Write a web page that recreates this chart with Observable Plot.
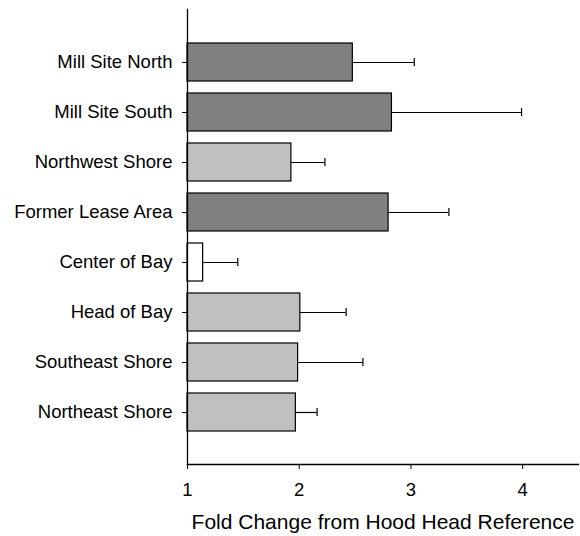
<!DOCTYPE html>
<html>
<head>
<meta charset="utf-8">
<script src="https://cdn.jsdelivr.net/npm/d3@7"></script>
<script src="https://cdn.jsdelivr.net/npm/@observablehq/plot@0.6"></script>
<style>
  html, body { margin: 0; padding: 0; background: #fff; }
  #chart svg { display: block; }
</style>
</head>
<body>
<div id="chart"></div>
<script>
const categories = ["Mill Site North", "Mill Site South", "Northwest Shore", "Former Lease Area", "Center of Bay", "Head of Bay", "Southeast Shore", "Northeast Shore"];
const foldChange = [2.48, 2.83, 1.93, 2.80, 1.14, 2.01, 1.99, 1.97];
const errorUp = [0.55, 1.16, 0.30, 0.54, 0.31, 0.41, 0.58, 0.19];
const groups = ["high", "high", "mid", "high", "low", "mid", "mid", "mid"];
const xTicks = [1, 2, 3, 4];
const groupDomain = ["high", "mid", "low"];
const groupColors = ["#808080", "#c0c0c0", "#ffffff"];
const axisTitle = "Fold Change from Hood Head Reference";

const data = categories.map((c, i) => ({
  site: c,
  value: foldChange[i],
  upper: foldChange[i] + errorUp[i],
  group: groups[i]
}));

const font = "'Liberation Sans', Arial, Helvetica, sans-serif";

const chart = Plot.plot({
  width: 580,
  height: 536,
  marginLeft: 187,
  marginRight: 2,
  marginTop: 9,
  marginBottom: 72,
  style: { fontFamily: font, background: "#fff", color: "#000" },
  x: { domain: [1, 4.5], ticks: xTicks },
  y: { domain: categories, paddingInner: 0.24, paddingOuter: 0.63 },
  color: { domain: groupDomain, range: groupColors },
  marks: [
    Plot.ruleY(data, { y: "site", x1: "value", x2: "upper", stroke: "#000", strokeWidth: 1.2 }),
    Plot.tickX(data, { x: "upper", y: "site", stroke: "#000", strokeWidth: 1.2, insetTop: 15, insetBottom: 15 }),
    Plot.barX(data, { y: "site", x1: 1, x2: "value", fill: "group", stroke: "#000", strokeWidth: 1.2 }),
    Plot.frame({ anchor: "left", stroke: "#000", strokeWidth: 1.3 }),
    Plot.frame({ anchor: "bottom", stroke: "#000", strokeWidth: 1.3 }),
    Plot.axisY({ tickSize: 5, tickPadding: 10, fontSize: 18.5, label: null, stroke: "#000" }),
    Plot.axisX({ ticks: xTicks, tickFormat: d3.format("d"), tickSize: 5, tickPadding: 13, fontSize: 18.5, label: null, stroke: "#000" }),
    Plot.text([axisTitle], { frameAnchor: "bottom", dy: 58, fontSize: 21, fill: "#000", lineAnchor: "middle" })
  ]
});
document.getElementById("chart").appendChild(chart);
</script>
</body>
</html>
